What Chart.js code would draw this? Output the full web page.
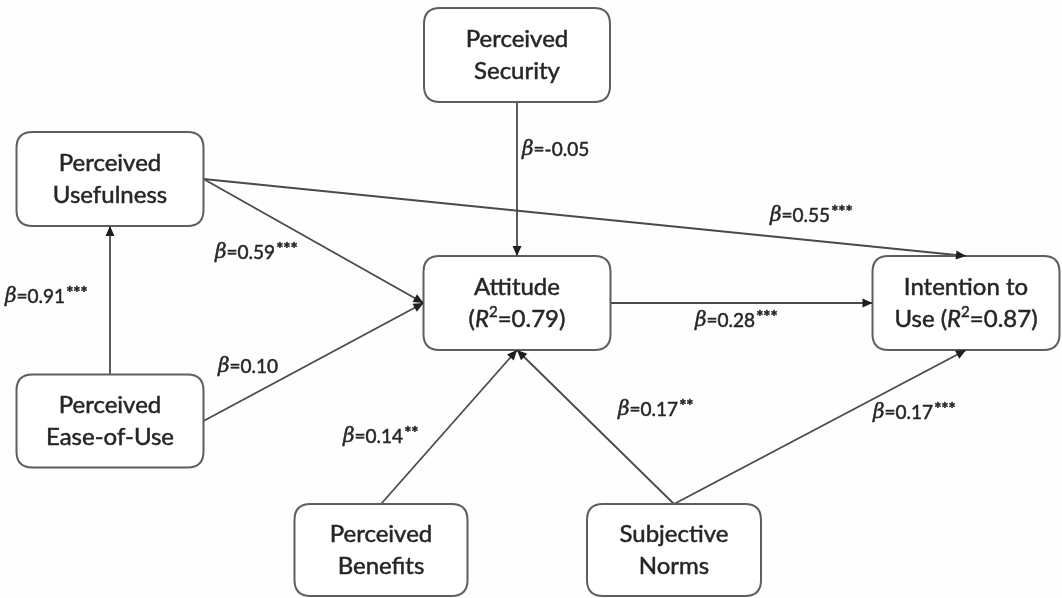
<!DOCTYPE html>
<html>
<head>
<meta charset="utf-8">
<script src="https://cdn.jsdelivr.net/npm/chart.js@4.4.1/dist/chart.umd.min.js"></script>
<style>
html,body{margin:0;padding:0;background:#fefefe;}
canvas{display:block;}
</style>
</head>
<body>
<canvas id="c" width="1062" height="598"></canvas>
<script>
// ---- data ----
const constructs = ['PS', 'PU', 'PE', 'ATT', 'INT', 'PB', 'SN'];
const constructLabels = [
  ['Perceived', 'Security'],
  ['Perceived', 'Usefulness'],
  ['Perceived', 'Ease-of-Use'],
  ['Attitude', null],
  ['Intention to', null],
  ['Perceived', 'Benefits'],
  ['Subjective', 'Norms']
];
const rSquared = { ATT: 0.79, INT: 0.87 };
const pathFrom = ['PE', 'PU', 'PE', 'PS', 'PU', 'ATT', 'PB', 'SN', 'SN'];
const pathTo   = ['PU', 'ATT', 'ATT', 'ATT', 'INT', 'INT', 'ATT', 'ATT', 'INT'];
const betas    = [0.91, 0.59, 0.10, -0.05, 0.55, 0.28, 0.14, 0.17, 0.17];
const signif   = ['***', '***', '', '', '***', '***', '**', '**', '***'];

// ---- layout (diagram units) ----
const nodeLayout = {
  PS:  { cx: 517, cy: 55,  w: 186, h: 94 },
  PU:  { cx: 110, cy: 179, w: 187, h: 94 },
  PE:  { cx: 110, cy: 421, w: 187, h: 93 },
  ATT: { cx: 517, cy: 303, w: 187, h: 94 },
  INT: { cx: 966, cy: 303, w: 187, h: 94 },
  PB:  { cx: 381, cy: 550, w: 173, h: 92 },
  SN:  { cx: 674, cy: 550, w: 174, h: 92 }
};
const pathSides = [['top','bottom'],['right','left'],['right','left'],['bottom','top'],['right','top'],['right','left'],['top','bottom'],['top','bottom'],['top','bottom']];
const labelPos = [[5,297],[215,253],[218,367],[522,150],[770,216],[695,321],[343,437],[618,410],[873,413]];

function anchor(id, side) {
  const n = nodeLayout[id];
  if (side === 'top') return { x: n.cx, y: n.cy - n.h / 2 };
  if (side === 'bottom') return { x: n.cx, y: n.cy + n.h / 2 };
  if (side === 'left') return { x: n.cx - n.w / 2, y: n.cy };
  return { x: n.cx + n.w / 2, y: n.cy };
}

const datasets = pathFrom.map((f, i) => ({
  label: f + '->' + pathTo[i],
  data: [anchor(f, pathSides[i][0]), anchor(pathTo[i], pathSides[i][1])],
  showLine: true,
  borderColor: '#4a4a4a',
  borderWidth: 1.8,
  pointRadius: 0,
  fill: false
}));

const FONT = 'Lato, "Open Sans", sans-serif';
const TEXT = '#262626';

function drawSegments(ctx, segs, x, y, align) {
  let total = 0;
  segs.forEach(s => { ctx.font = s.font; s.w = ctx.measureText(s.t).width + (s.gap || 0); total += s.w; });
  let cx = align === 'center' ? x - total / 2 : x;
  segs.forEach(s => {
    ctx.font = s.font;
    ctx.textAlign = 'left';
    ctx.textBaseline = 'middle';
    ctx.fillText(s.t, cx + (s.gap || 0), y + (s.dy || 0));
    ctx.lineWidth = 0.5;
    ctx.strokeStyle = ctx.fillStyle;
    ctx.strokeText(s.t, cx + (s.gap || 0), y + (s.dy || 0));
    cx += s.w;
  });
}

function roundRect(ctx, x, y, w, h, r) {
  ctx.beginPath();
  ctx.moveTo(x + r, y);
  ctx.lineTo(x + w - r, y);
  ctx.quadraticCurveTo(x + w, y, x + w, y + r);
  ctx.lineTo(x + w, y + h - r);
  ctx.quadraticCurveTo(x + w, y + h, x + w - r, y + h);
  ctx.lineTo(x + r, y + h);
  ctx.quadraticCurveTo(x, y + h, x, y + h - r);
  ctx.lineTo(x, y + r);
  ctx.quadraticCurveTo(x, y, x + r, y);
  ctx.closePath();
}

const diagramPlugin = {
  id: 'diagram',
  beforeDraw(chart) {
    const ctx = chart.ctx;
    ctx.save();
    ctx.fillStyle = '#fefefe';
    ctx.fillRect(0, 0, chart.width, chart.height);
    ctx.restore();
  },
  afterDatasetsDraw(chart) {
    const ctx = chart.ctx;
    const xs = chart.scales.x, ys = chart.scales.y;
    ctx.save();
    // boxes
    constructs.forEach((id, i) => {
      const n = nodeLayout[id];
      const x0 = xs.getPixelForValue(n.cx - n.w / 2), x1 = xs.getPixelForValue(n.cx + n.w / 2);
      const y0 = ys.getPixelForValue(n.cy - n.h / 2), y1 = ys.getPixelForValue(n.cy + n.h / 2);
      roundRect(ctx, x0, y0, x1 - x0, y1 - y0, 16);
      ctx.fillStyle = '#ffffff';
      ctx.fill();
      ctx.strokeStyle = '#5e5e5e';
      ctx.lineWidth = 2;
      ctx.stroke();
      const cx = (x0 + x1) / 2, cy = (y0 + y1) / 2;
      ctx.fillStyle = TEXT;
      const base = '24px ' + FONT;
      const lines = constructLabels[i];
      const l1 = cy - 16, l2 = cy + 16;
      drawSegments(ctx, [{ t: lines[0], font: base }], cx, l1, 'center');
      if (lines[1]) {
        drawSegments(ctx, [{ t: lines[1], font: base }], cx, l2, 'center');
      } else if (rSquared[id] !== undefined) {
        const pre = id === 'INT' ? 'Use (' : '(';
        drawSegments(ctx, [
          { t: pre, font: base },
          { t: 'R', font: 'italic 24px ' + FONT },
          { t: '2', font: '15px ' + FONT, dy: -7 },
          { t: '=' + rSquared[id].toFixed(2) + ')', font: base }
        ], cx, l2, 'center');
      }
    });
    // arrowheads
    chart.data.datasets.forEach((ds, i) => {
      const pts = chart.getDatasetMeta(i).data;
      const a = pts[0], b = pts[pts.length - 1];
      const ang = Math.atan2(b.y - a.y, b.x - a.x);
      const L = 10, W = 4.5;
      ctx.beginPath();
      ctx.moveTo(b.x, b.y);
      ctx.lineTo(b.x - L * Math.cos(ang) + W * Math.sin(ang), b.y - L * Math.sin(ang) - W * Math.cos(ang));
      ctx.lineTo(b.x - L * Math.cos(ang) - W * Math.sin(ang), b.y - L * Math.sin(ang) + W * Math.cos(ang));
      ctx.closePath();
      ctx.fillStyle = '#1e1e1e';
      ctx.fill();
    });
    // path labels
    betas.forEach((b, i) => {
      const px = xs.getPixelForValue(labelPos[i][0]);
      const py = ys.getPixelForValue(labelPos[i][1]);
      ctx.fillStyle = TEXT;
      const segs = [
        { t: 'β', font: 'italic 20px "DejaVu Serif", serif' },
        { t: '=' + b.toFixed(2), font: '19px ' + FONT }
      ];
      if (signif[i]) segs.push({ t: signif[i], font: 'bold 17px ' + FONT, dy: -3, gap: 1 });
      drawSegments(ctx, segs, px, py, 'left');
    });
    ctx.restore();
  }
};

new Chart(document.getElementById('c'), {
  type: 'scatter',
  data: { datasets },
  options: {
    responsive: false,
    animation: false,
    devicePixelRatio: 1,
    layout: { padding: 0 },
    plugins: { legend: { display: false }, tooltip: { enabled: false } },
    scales: {
      x: { type: 'linear', min: 0, max: 1062, display: false },
      y: { type: 'linear', min: 0, max: 598, reverse: true, display: false }
    }
  },
  plugins: [diagramPlugin]
});
</script>
</body>
</html>
